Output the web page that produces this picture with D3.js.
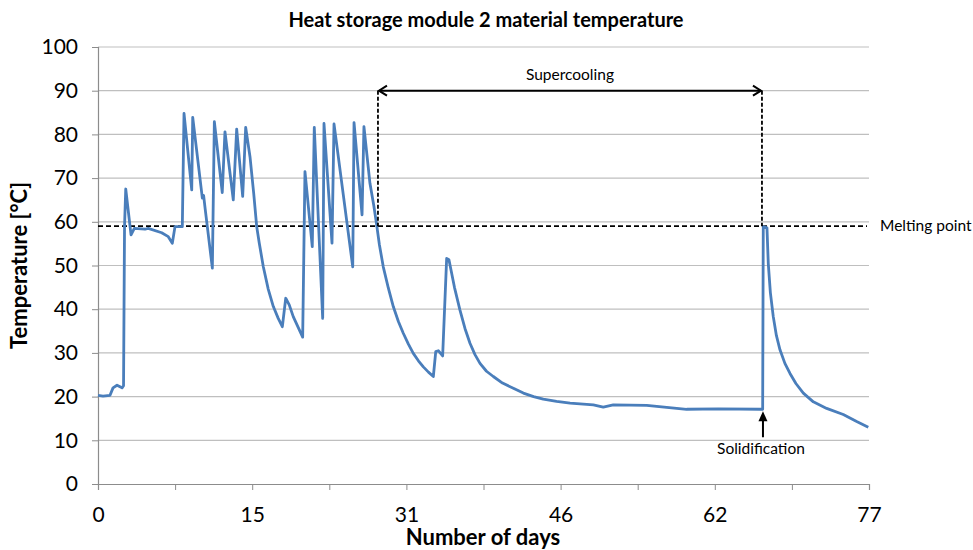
<!DOCTYPE html>
<html>
<head>
<meta charset="utf-8">
<script src="https://cdn.jsdelivr.net/npm/d3@7"></script>
<style>
  html, body { margin: 0; padding: 0; background: #fff; }
  svg { display: block; }
  text { font-family: Lato, "Open Sans", sans-serif; }
</style>
</head>
<body>
<svg id="chart" width="973" height="550"></svg>
<script>
// ---- data ----
const days = [0, 0.5, 1.2, 1.5, 1.9, 2.4, 2.55, 2.65, 2.77, 3.3, 3.63, 4.69, 5.02, 6.36, 7.02, 7.42, 7.69, 8.42,
  8.59, 9.36, 9.46, 10.42, 10.55, 10.7, 11.42, 11.62, 12.41, 12.68, 13.51, 13.85, 14.45, 14.75, 15.18, 15.55, 15.85,
  16.1, 16.51, 17.0, 17.51, 18.0, 18.41, 18.75, 19.1, 19.5, 20.44, 20.67, 21.4, 21.6, 22.44, 22.57, 23.37, 23.57,
  25.44, 25.57, 26.37, 26.56, 27.16, 27.55, 27.83, 28.1, 28.49, 29.0, 29.49, 30.0, 30.49, 31.0, 31.49, 32.0,
  32.49, 33.0, 33.49, 33.73, 33.99, 34.42, 34.82, 35.05, 35.6, 36.15, 36.65, 37.15, 37.65, 38.15, 38.8, 39.48,
  40.4, 41.48, 42.48, 43.5, 44.47, 45.8, 47.15, 49.47, 50.46, 51.46, 54.8, 58.79, 62, 66.11, 66.38,
  66.44, 66.81, 66.94, 67.15, 67.44, 67.75, 68.11, 68.6, 69.11, 69.7, 70.44, 71.44, 72.77, 74.43, 75.77, 76.93];
const temps = [20.3, 20.1, 20.3, 22, 22.6, 22, 22.5, 59, 67.5, 57, 58.5, 58.3, 58.5, 57.5, 56.6, 55.1, 58.9, 58.9,
  84.8, 67.3, 83.9, 65.4, 66, 63, 49.4, 82.9, 66.7, 80.6, 65, 81.2, 65.8, 81.6, 74.9, 66.5, 58.9,
  55.2, 49.7, 44.6, 40.6, 37.9, 36, 42.5, 41, 38.3, 33.6, 71.5, 54.3, 81.6, 37.9, 82.5, 55.1, 82.4,
  49.7, 82.7, 61.6, 81.8, 68.8, 63.6, 59.3, 54.8, 49.7, 44.8, 40.6, 37.2, 34.5, 32.0, 29.9, 28.2,
  26.8, 25.6, 24.6, 30.3, 30.5, 29.3, 51.6, 51.3, 45.0, 39.8, 35.6, 32.2, 29.6, 27.6, 25.8, 24.6,
  23.1, 21.9, 20.8, 20.0, 19.4, 18.9, 18.5, 18.1, 17.6, 18.1, 18.0, 17.1, 17.2, 17.1, 17.1,
  58.9, 58.6, 50.5, 43.8, 38.3, 34.0, 30.7, 27.6, 25.3, 23.0, 20.8, 18.8, 17.3, 15.9, 14.3, 13];
const yTicks = [0, 10, 20, 30, 40, 50, 60, 70, 80, 90, 100];
const xTicks = [0, 7.7, 15.4, 23.1, 30.8, 38.5, 46.2, 53.9, 61.6, 69.3, 77];
const meltingPoint = 59;
const supercoolStart = 27.96, supercoolEnd = 66.31, supercoolLevel = 90;
const titleText = "Heat storage module 2 material temperature";
const xTitle = "Number of days";
const yTitle = "Temperature [°C]";

// ---- layout ----
const svg = d3.select("#chart");
const M = { left: 98, top: 47, right: 973 - 869, bottom: 550 - 484 };
const W = 973 - M.left - M.right, H = 550 - M.top - M.bottom;
const x = d3.scaleLinear().domain([0, 77]).range([M.left, M.left + W]);
const y = d3.scaleLinear().domain([0, 100]).range([M.top + H, M.top]);

// gridlines
svg.append("g").selectAll("line").data(yTicks.filter(d => d > 0)).join("line")
  .attr("x1", x(0)).attr("x2", x(77))
  .attr("y1", d => y(d)).attr("y2", d => y(d))
  .attr("stroke", "#bfbfbf").attr("stroke-width", 1.2);

// y axis
const gy = svg.append("g").attr("transform", `translate(${x(0)},0)`)
  .call(d3.axisLeft(y).tickValues(yTicks).tickSize(6).tickPadding(14).tickFormat(d3.format("d")));
gy.select(".domain").attr("stroke", "#8c8c8c").attr("stroke-width", 1.2);
gy.selectAll(".tick line").attr("stroke", "#8c8c8c");
gy.selectAll(".tick text").attr("font-size", 21).attr("fill", "#000").style("font-family", "Lato");

// x axis
const gx = svg.append("g").attr("transform", `translate(0,${y(0)})`)
  .call(d3.axisBottom(x).tickValues(xTicks).tickSize(6).tickPadding(17)
    .tickFormat((d, i) => i % 2 === 0 ? d3.format(".0f")(d) : ""));
gx.select(".domain").attr("stroke", "#8c8c8c").attr("stroke-width", 1.2);
gx.selectAll(".tick line").attr("stroke", "#8c8c8c");
gx.selectAll(".tick text").attr("font-size", 21).attr("fill", "#000").style("font-family", "Lato");

// melting point dashed line
svg.append("line")
  .attr("x1", x(0)).attr("x2", x(76.8))
  .attr("y1", y(meltingPoint)).attr("y2", y(meltingPoint))
  .attr("stroke", "#000").attr("stroke-width", 1.8).attr("stroke-dasharray", "5,3");

// data line
const pts = days.map((d, i) => [d, temps[i]]);
svg.append("path").datum(pts)
  .attr("fill", "none").attr("stroke", "#4a7ebb").attr("stroke-width", 2.8)
  .attr("stroke-linejoin", "round")
  .attr("d", d3.line().x(d => x(d[0])).y(d => y(d[1])));

// supercooling verticals
[supercoolStart, supercoolEnd].forEach(d => {
  svg.append("line")
    .attr("x1", x(d)).attr("x2", x(d))
    .attr("y1", y(supercoolLevel)).attr("y2", y(meltingPoint))
    .attr("stroke", "#000").attr("stroke-width", 1.8).attr("stroke-dasharray", "4,2");
});
// supercooling double arrow
const ay = y(supercoolLevel), ax1 = x(supercoolStart), ax2 = x(supercoolEnd);
svg.append("line").attr("x1", ax1 + 1).attr("x2", ax2 - 1).attr("y1", ay).attr("y2", ay)
  .attr("stroke", "#000").attr("stroke-width", 2);
svg.append("path").attr("d", `M${ax1 + 9},${ay - 5} L${ax1 + 1},${ay} L${ax1 + 9},${ay + 5}`)
  .attr("fill", "none").attr("stroke", "#000").attr("stroke-width", 2);
svg.append("path").attr("d", `M${ax2 - 9},${ay - 5} L${ax2 - 1},${ay} L${ax2 - 9},${ay + 5}`)
  .attr("fill", "none").attr("stroke", "#000").attr("stroke-width", 2);
svg.append("text").attr("x", (ax1 + ax2) / 2).attr("y", ay - 11)
  .attr("text-anchor", "middle").attr("font-size", 15.5).attr("fill", "#000").text("Supercooling");

// melting point label
svg.append("text").attr("x", 880).attr("y", y(meltingPoint) + 5)
  .attr("font-size", 15.5).attr("fill", "#000").text("Melting point");

// solidification arrow
const sx = x(supercoolEnd) + 1, sy = y(17.1) + 2;
svg.append("line").attr("x1", sx).attr("x2", sx).attr("y1", sy + 8).attr("y2", sy + 26)
  .attr("stroke", "#000").attr("stroke-width", 2);
svg.append("path").attr("d", `M${sx - 4.5},${sy + 10} L${sx},${sy} L${sx + 4.5},${sy + 10} Z`).attr("fill", "#000");
svg.append("text").attr("x", sx - 2).attr("y", sy + 43)
  .attr("text-anchor", "middle").attr("font-size", 15.5).attr("fill", "#000").text("Solidification");

// titles
svg.append("text").attr("x", 486).attr("y", 27).attr("text-anchor", "middle")
  .attr("font-size", 20).attr("font-weight", "bold").attr("fill", "#000").text(titleText);
svg.append("text").attr("x", 483).attr("y", 545).attr("text-anchor", "middle")
  .attr("font-size", 22).attr("font-weight", "bold").attr("fill", "#000").text(xTitle);
svg.append("text").attr("transform", `translate(27,${y(50)}) rotate(-90)`).attr("text-anchor", "middle")
  .attr("font-size", 22).attr("font-weight", "bold").attr("fill", "#000").text(yTitle);
</script>
</body>
</html>
